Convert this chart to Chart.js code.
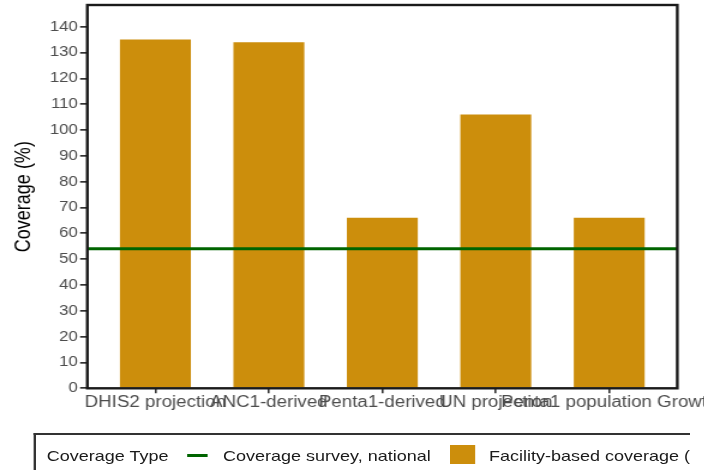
<!doctype html>
<html lang="en">
<head>
<meta charset="utf-8">
<title>Coverage by denominator</title>
<script src="https://cdn.jsdelivr.net/npm/chart.js@4.4.0/dist/chart.umd.min.js"></script>
<style>
  html, body { margin: 0; padding: 0; background: #fff; width: 704px; height: 470px; overflow: hidden; }
  /* the reference is stretched horizontally, so the whole drawing is too */
  #wrap { position: absolute; left: 0; top: 0; width: 620px; height: 470px; transform: scaleX(1.2); transform-origin: 0 0; }
  #chart { position: absolute; left: 0; top: 0; }
  .legend { position: absolute; left: 27.5px; top: 432.5px; width: 545.5px; height: 60px; border: 2px solid #333; border-right: none; overflow: hidden; white-space: nowrap; font: 15px "Liberation Sans", Arial, sans-serif; color: #1a1a1a; }
  .legend span { position: absolute; top: 12px; line-height: 18px; }
  .legend .key-line { top: 19.5px; width: 17.5px; height: 3px; background: #006400; }
  .legend .key-box { top: 10px; width: 21px; height: 19px; background: #cc8e0c; }
</style>
</head>
<body>
<div id="wrap">
  <canvas id="chart" width="620" height="420"></canvas>
  <div class="legend">
    <span style="left:9.5px">Coverage Type</span>
    <span class="key-line" style="left:126.3px"></span>
    <span style="left:156.3px">Coverage survey, national</span>
    <span class="key-box" style="left:345.5px"></span>
    <span style="left:378px">Facility-based coverage (DHIS2)</span>
  </div>
</div>
<script>
const categories = ['DHIS2 projection', 'ANC1-derived', 'Penta1-derived', 'UN projection', 'Penta1 population Growth'];
const facilityCoverage = [135, 134, 66, 106, 66];
const surveyCoverage = 54;
const yTicks = [0, 10, 20, 30, 40, 50, 60, 70, 80, 90, 100, 110, 120, 130, 140];
const xMin = 0.4, xMax = 5.6;
const yMax = 148.4;

const frame = {
  id: 'frame',
  afterDatasetsDraw(chart) {
    const a = chart.chartArea, ctx = chart.ctx;
    ctx.save();
    ctx.strokeStyle = '#1a1a1a';
    ctx.lineWidth = 2.4;
    ctx.strokeRect(a.left, a.top, a.right - a.left, a.bottom - a.top);
    ctx.restore();
  }
};

const font = { family: '"Liberation Sans", Arial, sans-serif' };

new Chart(document.getElementById('chart'), {
  type: 'bar',
  data: {
    datasets: [
      {
        type: 'line',
        label: 'Coverage survey, national',
        data: [{ x: xMin, y: surveyCoverage }, { x: xMax, y: surveyCoverage }],
        borderColor: '#006400',
        borderWidth: 3,
        pointRadius: 0,
        order: 0
      },
      {
        label: 'Facility-based coverage (DHIS2)',
        data: facilityCoverage.map((v, i) => ({ x: i + 1, y: v })),
        backgroundColor: '#cc8e0c',
        borderWidth: 0,
        categoryPercentage: 1,
        barPercentage: 0.625,
        order: 1
      }
    ]
  },
  options: {
    responsive: false,
    animation: false,
    layout: { padding: { left: 0, right: 55.6, top: 5, bottom: 0 } },
    plugins: { legend: { display: false }, tooltip: { enabled: false } },
    scales: {
      x: {
        type: 'linear',
        offset: false,
        min: xMin,
        max: xMax,
        afterBuildTicks: s => { s.ticks = categories.map((c, i) => ({ value: i + 1 })); },
        afterFit: s => { s.height = 31.7; s.paddingLeft = 0; s.paddingRight = 0; },
        grid: { drawOnChartArea: false, offset: false, color: '#333', lineWidth: 1.6, tickLength: 5 },
        border: { display: false },
        ticks: {
          autoSkip: false, maxRotation: 0, minRotation: 0, padding: 0,
          color: '#4d4d4d', font: { ...font, size: 15.6 },
          callback: v => categories[v - 1]
        }
      },
      y: {
        min: 0,
        max: yMax,
        afterBuildTicks: s => { s.ticks = yTicks.map(v => ({ value: v })); },
        afterFit: s => { s.width = 72.75; s.paddingTop = 0; s.paddingBottom = 0; },
        grid: { drawOnChartArea: false, color: '#333', lineWidth: 1.7, tickLength: 6 },
        border: { display: false },
        ticks: { padding: 2, color: '#4d4d4d', font: { ...font, size: 14 } },
        title: { display: true, text: 'Coverage (%)', color: '#000', font: { ...font, size: 18 }, padding: { top: 9.2, bottom: 0 } }
      }
    }
  },
  plugins: [frame]
});
</script>
</body>
</html>
